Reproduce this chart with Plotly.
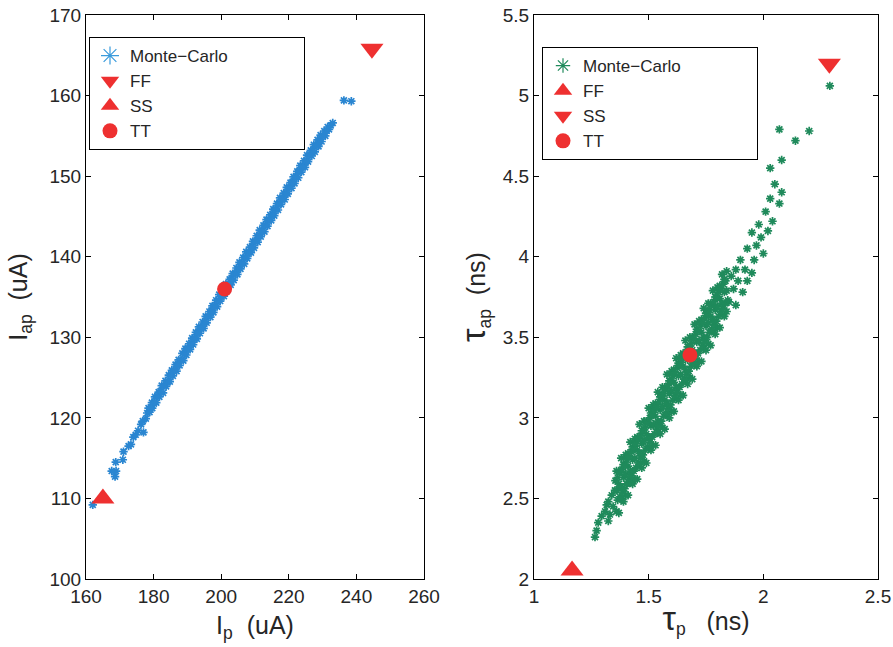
import plotly.graph_objects as go

# ---------------- data: left panel (Ip vs Iap, uA) ----------------
mc_ip = [
    162.0, 167.6, 168.6, 168.9, 168.8, 170.9, 171.1, 172.6, 173.3, 174.0, 174.7, 175.4, 176.3, 176.8, 177.0,
    177.7, 178.1, 178.5, 178.8, 179.2, 179.5, 179.6, 180.1, 180.4, 180.8, 181.1, 181.5,
    181.7, 182.0, 182.4, 182.8, 183.1, 183.5, 183.7, 184.2, 184.5, 184.8, 185.1, 185.4,
    185.7, 186.0, 186.5, 186.8, 187.1, 187.4, 187.7, 188.1, 188.5, 188.8, 189.2, 189.4,
    189.7, 190.0, 190.5, 190.8, 191.1, 191.4, 191.7, 192.2, 192.5, 192.8, 193.1, 193.4,
    193.7, 194.0, 194.5, 194.8, 195.2, 195.4, 195.7, 196.1, 196.5, 196.8, 197.1, 197.4,
    197.7, 198.0, 198.5, 198.8, 199.2, 199.4, 199.7, 200.1, 200.5, 200.8, 201.1, 201.4,
    201.7, 202.2, 202.5, 202.8, 203.0, 203.4, 203.7, 204.1, 204.5, 204.8, 205.2, 205.4,
    205.7, 206.0, 206.5, 206.8, 207.1, 207.4, 207.7, 208.2, 208.5, 208.8, 209.1, 209.4,
    209.7, 210.0, 210.5, 210.8, 211.2, 211.4, 211.7, 212.1, 212.5, 212.8, 213.1, 213.4,
    213.7, 214.0, 214.5, 214.8, 215.2, 215.4, 215.7, 216.1, 216.5, 216.8, 217.1, 217.4,
    217.7, 218.0, 218.5, 218.8, 219.2, 219.4, 219.7, 220.1, 220.5, 220.8, 221.1, 221.4,
    221.7, 222.2, 222.5, 222.8, 223.0, 223.4, 223.7, 224.1, 224.5, 224.8, 225.2, 225.4,
    225.7, 226.1, 226.5, 226.8, 227.1, 227.4, 227.7, 228.2, 228.5, 228.8, 229.1, 229.4,
    229.7, 230.0, 230.5, 230.8, 231.2, 231.5, 231.9, 232.4, 233.0,
    236.3, 238.5,
]
mc_iap = [
    109.2, 113.4, 112.7, 113.4, 114.5, 114.8, 115.8, 116.5, 116.7, 117.6, 117.9, 118.4, 119.2, 119.6, 118.2,
    119.9, 120.6, 121.2, 120.7, 121.3, 121.9, 121.2, 121.8, 122.6, 121.9, 122.7, 123.2,
    122.6, 123.3, 124.0, 123.1, 124.0, 124.6, 123.9, 124.5, 125.3, 124.5, 125.3, 125.9,
    125.2, 125.9, 126.6, 125.8, 126.6, 127.2, 126.5, 127.2, 128.0, 127.1, 127.9, 128.6,
    127.8, 128.6, 129.2, 128.5, 129.3, 129.9, 129.1, 129.9, 130.6, 129.8, 130.6, 131.3,
    130.5, 131.2, 131.9, 131.1, 131.9, 132.6, 131.8, 132.6, 133.2, 132.5, 133.3, 133.9,
    133.1, 133.9, 134.6, 133.8, 134.6, 135.3, 134.5, 135.2, 135.9, 135.1, 135.9, 136.6,
    135.8, 136.6, 137.2, 136.5, 137.3, 137.9, 137.1, 137.9, 138.6, 137.8, 138.6, 139.3,
    138.5, 139.2, 139.9, 139.1, 139.9, 140.6, 139.8, 140.6, 141.2, 140.5, 141.3, 141.9,
    141.1, 141.9, 142.6, 141.8, 142.6, 143.3, 142.5, 143.2, 143.9, 143.1, 143.9, 144.6,
    143.8, 144.6, 145.2, 144.5, 145.3, 145.9, 145.1, 145.9, 146.6, 145.8, 146.6, 147.3,
    146.5, 147.2, 147.9, 147.1, 147.9, 148.6, 147.8, 148.6, 149.2, 148.5, 149.3, 149.9,
    149.1, 149.9, 150.6, 149.8, 150.6, 151.3, 150.5, 151.2, 151.9, 151.1, 151.9, 152.6,
    151.8, 152.6, 153.2, 152.5, 153.1, 153.9, 153.0, 153.8, 154.5, 153.7, 154.4, 155.1,
    154.3, 155.0, 155.6, 155.0, 155.6, 156.1, 155.8, 156.3, 156.6,
    159.4, 159.3,
]
corner_left_names = ["FF", "SS", "TT"]
corner_left_ip = [244.6, 165.0, 201.0]
corner_left_iap = [165.8, 110.0, 136.0]

# ---------------- data: right panel (tau_p vs tau_ap, ns) ----------------
mc_tp = [
    1.266, 1.273, 1.280, 1.295, 1.310, 1.324, 1.331, 1.317, 1.324, 1.339, 1.353, 1.375, 1.404, 1.426, 1.345,
    1.36, 1.36, 1.36, 1.37, 1.37, 1.37, 1.38, 1.38, 1.38, 1.39, 1.39, 1.39,
    1.40, 1.40, 1.40, 1.41, 1.41, 1.41, 1.42, 1.42, 1.42, 1.43, 1.43, 1.43,
    1.44, 1.44, 1.44, 1.45, 1.45, 1.45, 1.46, 1.46, 1.46, 1.47, 1.47, 1.47,
    1.48, 1.48, 1.48, 1.49, 1.49, 1.49, 1.50, 1.50, 1.50, 1.51, 1.51, 1.51,
    1.52, 1.52, 1.52, 1.53, 1.53, 1.53, 1.54, 1.54, 1.54, 1.55, 1.55, 1.55,
    1.56, 1.56, 1.56, 1.57, 1.57, 1.57, 1.58, 1.58, 1.58, 1.59, 1.59, 1.59,
    1.60, 1.60, 1.60, 1.61, 1.61, 1.61, 1.62, 1.62, 1.62, 1.63, 1.63, 1.63,
    1.64, 1.64, 1.64, 1.65, 1.65, 1.65, 1.66, 1.66, 1.66, 1.67, 1.67, 1.67,
    1.68, 1.68, 1.68, 1.69, 1.69, 1.69, 1.70, 1.70, 1.70, 1.71, 1.71, 1.71,
    1.72, 1.72, 1.72, 1.73, 1.73, 1.73, 1.74, 1.74, 1.74, 1.75, 1.75, 1.75,
    1.76, 1.76, 1.76, 1.77, 1.77, 1.77, 1.78, 1.78, 1.78, 1.79, 1.79, 1.79,
    1.80, 1.80, 1.80, 1.81, 1.81, 1.81, 1.82, 1.82, 1.82, 1.83, 1.83, 1.83,
    1.84, 1.84, 1.84,
    1.85, 1.86, 1.87, 1.88, 1.88, 1.89, 1.90, 1.91, 1.92, 1.93, 1.93, 1.95, 1.95, 1.96,
    1.97, 1.98, 1.99, 2.00, 2.01, 2.02, 2.03, 2.04, 2.05, 2.07, 2.08, 2.08, 2.03,
    2.07, 2.14, 2.20, 2.29,
]
mc_tap = [
    2.26, 2.30, 2.35, 2.39, 2.42, 2.36, 2.40, 2.46, 2.48, 2.52, 2.55, 2.57, 2.59, 2.60, 2.45,
    2.42, 2.55, 2.67, 2.41, 2.59, 2.67, 2.50, 2.57, 2.75, 2.48, 2.63, 2.71,
    2.52, 2.65, 2.77, 2.52, 2.70, 2.78, 2.60, 2.67, 2.85, 2.59, 2.74, 2.82,
    2.62, 2.75, 2.87, 2.62, 2.80, 2.88, 2.71, 2.78, 2.96, 2.69, 2.84, 2.92,
    2.73, 2.86, 2.98, 2.72, 2.90, 2.98, 2.81, 2.88, 3.06, 2.80, 2.95, 3.03,
    2.83, 2.96, 3.08, 2.83, 3.01, 3.09, 2.91, 2.98, 3.16, 2.90, 3.05, 3.13,
    2.94, 3.07, 3.19, 2.93, 3.11, 3.19, 3.02, 3.09, 3.27, 3.00, 3.15, 3.23,
    3.04, 3.17, 3.29, 3.04, 3.22, 3.30, 3.12, 3.19, 3.37, 3.11, 3.26, 3.34,
    3.14, 3.27, 3.39, 3.14, 3.32, 3.40, 3.23, 3.30, 3.48, 3.21, 3.36, 3.44,
    3.25, 3.38, 3.50, 3.24, 3.42, 3.50, 3.33, 3.40, 3.58, 3.32, 3.47, 3.55,
    3.35, 3.48, 3.60, 3.35, 3.53, 3.61, 3.43, 3.50, 3.68, 3.42, 3.57, 3.65,
    3.46, 3.59, 3.71, 3.45, 3.63, 3.71, 3.54, 3.61, 3.79, 3.52, 3.67, 3.75,
    3.56, 3.69, 3.81, 3.56, 3.74, 3.82, 3.64, 3.71, 3.89, 3.63, 3.78, 3.86,
    3.66, 3.79, 3.91,
    3.72, 3.88, 3.80, 3.70, 3.92, 3.85, 3.98, 3.78, 3.92, 3.85, 4.05, 3.90, 4.15, 3.98,
    4.07, 4.20, 4.12, 4.02, 4.28, 4.16, 4.55, 4.22, 4.45, 4.33, 4.40, 4.60, 4.36,
    4.79, 4.72, 4.78, 5.06,
]
# extra points filling the dense core of the green cloud
mc_tp_core = [
    1.365, 1.355, 1.375, 1.365, 1.385, 1.375, 1.395, 1.385, 1.405, 1.395, 1.415, 1.405,
    1.425, 1.415, 1.435, 1.425, 1.445, 1.435, 1.455, 1.445, 1.465, 1.455, 1.475, 1.465,
    1.485, 1.475, 1.495, 1.485, 1.505, 1.495, 1.515, 1.505, 1.525, 1.515, 1.535, 1.525,
    1.545, 1.535, 1.555, 1.545, 1.565, 1.555, 1.575, 1.565, 1.585, 1.575, 1.595, 1.585,
    1.605, 1.595, 1.615, 1.605, 1.625, 1.615, 1.635, 1.625, 1.645, 1.635, 1.655, 1.645,
    1.665, 1.655, 1.675, 1.665, 1.685, 1.675, 1.695, 1.685, 1.705, 1.695, 1.715, 1.705,
    1.725, 1.715, 1.735, 1.725, 1.745, 1.735, 1.755, 1.745, 1.765, 1.755, 1.775, 1.765,
    1.785, 1.775, 1.795, 1.785, 1.805, 1.795, 1.815, 1.805, 1.825, 1.815, 1.835, 1.825,
    1.845, 1.835,
]
mc_tap_core = [
    2.49, 2.61, 2.51, 2.63, 2.54, 2.66, 2.56, 2.68, 2.59, 2.71, 2.62, 2.74,
    2.64, 2.76, 2.67, 2.79, 2.69, 2.81, 2.72, 2.84, 2.75, 2.87, 2.77, 2.89,
    2.80, 2.92, 2.82, 2.94, 2.85, 2.97, 2.88, 3.00, 2.90, 3.02, 2.93, 3.05,
    2.95, 3.07, 2.98, 3.10, 3.01, 3.13, 3.03, 3.15, 3.06, 3.18, 3.08, 3.20,
    3.11, 3.23, 3.14, 3.26, 3.16, 3.28, 3.19, 3.31, 3.21, 3.33, 3.24, 3.36,
    3.27, 3.39, 3.29, 3.41, 3.32, 3.44, 3.34, 3.46, 3.37, 3.49, 3.40, 3.52,
    3.42, 3.54, 3.45, 3.57, 3.47, 3.59, 3.50, 3.62, 3.53, 3.65, 3.55, 3.67,
    3.58, 3.70, 3.60, 3.72, 3.63, 3.75, 3.66, 3.78, 3.68, 3.80, 3.71, 3.83,
    3.73, 3.85,
]
corner_right_names = ["FF", "SS", "TT"]
corner_right_tp = [1.166, 2.288, 1.68]
corner_right_tap = [2.052, 5.198, 3.39]

# ---------------- tick values ----------------
left_xticks = [160, 180, 200, 220, 240, 260]
left_yticks = [100, 110, 120, 130, 140, 150, 160, 170]
right_xticks = [1, 1.5, 2, 2.5]
right_yticks = [2, 2.5, 3, 3.5, 4, 4.5, 5, 5.5]

BLUE = "#2A86D1"
GREEN = "#1F8A5B"
RED = "#EE3030"
FONT = "Liberation Sans, Arial, sans-serif"
MINUS = "\u2212"
PAD = "\u00a0" * 15

fig = go.Figure()

# ---- left panel ----
fig.add_trace(go.Scatter(
    x=mc_ip, y=mc_iap, mode="markers", xaxis="x", yaxis="y", showlegend=False,
    marker=dict(symbol="asterisk-open", size=7, color=BLUE, line=dict(color=BLUE, width=1.7)),
))
fig.add_trace(go.Scatter(
    x=[None], y=[None], mode="markers", xaxis="x", yaxis="y", legend="legend",
    name="Monte" + MINUS + "Carlo" + PAD,
    marker=dict(symbol="asterisk-open", size=15, color="#3A9BDC", line=dict(color="#3A9BDC", width=1.2)),
))
left_syms = ["triangle-down", "triangle-up", "circle"]
left_sizes = [20, 20, 15]
for i in range(3):
    fig.add_trace(go.Scatter(
        x=[corner_left_ip[i]], y=[corner_left_iap[i]], mode="markers", xaxis="x", yaxis="y",
        legend="legend", name=corner_left_names[i],
        marker=dict(symbol=left_syms[i], size=left_sizes[i], color=RED, line=dict(width=0)),
    ))

# ---- right panel ----
fig.add_trace(go.Scatter(
    x=mc_tp + mc_tp_core, y=mc_tap + mc_tap_core, mode="markers", xaxis="x2", yaxis="y2",
    showlegend=False,
    marker=dict(symbol="asterisk-open", size=7, color=GREEN, line=dict(color=GREEN, width=1.7)),
))
fig.add_trace(go.Scatter(
    x=[None], y=[None], mode="markers", xaxis="x2", yaxis="y2", legend="legend2",
    name="Monte" + MINUS + "Carlo" + PAD,
    marker=dict(symbol="asterisk-open", size=12, color=GREEN, line=dict(color=GREEN, width=1.2)),
))
right_syms = ["triangle-up", "triangle-down", "circle"]
right_sizes = [20, 20, 15]
for i in range(3):
    fig.add_trace(go.Scatter(
        x=[corner_right_tp[i]], y=[corner_right_tap[i]], mode="markers", xaxis="x2", yaxis="y2",
        legend="legend2", name=corner_right_names[i],
        marker=dict(symbol=right_syms[i], size=right_sizes[i], color=RED, line=dict(width=0)),
    ))

W, H = 893, 647
axis_common = dict(
    showgrid=False, zeroline=False, showline=True, linecolor="black", linewidth=1.2,
    mirror="ticks", ticks="inside", ticklen=5, tickcolor="black", tickwidth=1,
    tickfont=dict(family=FONT, size=19, color="#262626"), automargin=False,
)
ydom = [(H - 579) / H, (H - 15) / H]

legend_common = dict(
    bordercolor="black", borderwidth=1, bgcolor="white",
    font=dict(family=FONT, size=17, color="#262626"),
    xanchor="left", yanchor="top", tracegroupgap=0, itemwidth=30,
)

fig.update_layout(
    width=W, height=H, margin=dict(l=0, r=0, t=0, b=0, autoexpand=False),
    paper_bgcolor="white", plot_bgcolor="white",
    font=dict(family=FONT, color="#262626"),
    xaxis=dict(domain=[86 / W, 424 / W], range=[160, 260], tickvals=left_xticks, anchor="y",
               title=dict(text="I<sub>p</sub>  (uA)", font=dict(family=FONT, size=25), standoff=10),
               **axis_common),
    yaxis=dict(domain=ydom, range=[100, 170], tickvals=left_yticks, anchor="x",
               title=dict(text="I<sub>ap</sub>  (uA)", font=dict(family=FONT, size=25), standoff=14),
               **axis_common),
    xaxis2=dict(domain=[534 / W, 878 / W], range=[1, 2.5], tickvals=right_xticks, anchor="y2",
                title=dict(text="<span style='font-size:34px'>τ</span><sub>p</sub>   (ns)",
                           font=dict(family=FONT, size=25), standoff=6),
                **axis_common),
    yaxis2=dict(domain=ydom, range=[2, 5.5], tickvals=right_yticks, anchor="x2",
                title=dict(text="<span style='font-size:34px'>τ</span><sub>ap</sub>  (ns)",
                           font=dict(family=FONT, size=25), standoff=9),
                **axis_common),
    legend=dict(x=89 / W, y=1 - 37 / H, **legend_common),
    legend2=dict(x=542 / W, y=1 - 47 / H, **legend_common),
)

fig.write_html("out.html", config={"displayModeBar": False},
               post_script="document.body.style.margin='0px';")
